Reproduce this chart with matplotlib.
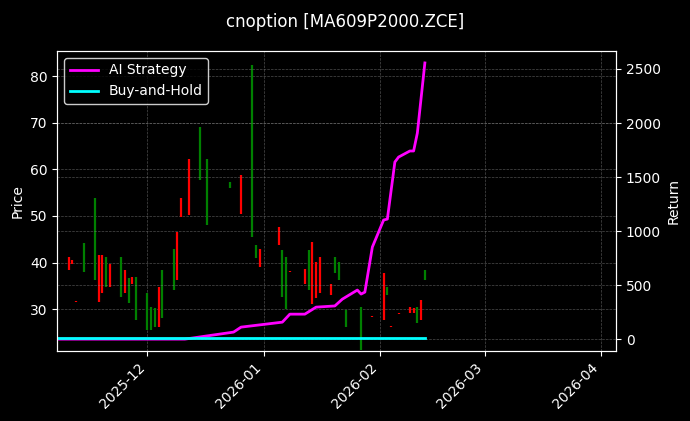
import matplotlib
matplotlib.use("Agg")
import matplotlib.pyplot as plt
import matplotlib.dates as mdates
import pandas as pd

# candle data (open, close); wicks equal the bodies
candle_dates = [
    "2025-11-10", "2025-11-11", "2025-11-12", "2025-11-14", "2025-11-17", "2025-11-18",
    "2025-11-19", "2025-11-20", "2025-11-21", "2025-11-24", "2025-11-25", "2025-11-26",
    "2025-11-27", "2025-11-28", "2025-12-01", "2025-12-02", "2025-12-03", "2025-12-04",
    "2025-12-05", "2025-12-08", "2025-12-09", "2025-12-10", "2025-12-12", "2025-12-15",
    "2025-12-17", "2025-12-23", "2025-12-26", "2025-12-29", "2025-12-30", "2025-12-31",
    "2026-01-05", "2026-01-06", "2026-01-07", "2026-01-08", "2026-01-12", "2026-01-13",
    "2026-01-14", "2026-01-15", "2026-01-16", "2026-01-19", "2026-01-20", "2026-01-21",
    "2026-01-23", "2026-01-27", "2026-01-30", "2026-02-02", "2026-02-03", "2026-02-04",
    "2026-02-06", "2026-02-09", "2026-02-10", "2026-02-11", "2026-02-12", "2026-02-13",
]
opens = [
    41.2, 40.5, 31.7, 38.0, 36.2, 41.6, 41.6, 34.8, 39.7, 32.7, 38.4, 31.3,
    36.9, 27.6, 25.5, 25.5, 26.2, 34.8, 28.0, 34.1, 46.6, 53.8, 62.3, 57.7,
    48.0, 55.9, 58.8, 45.5, 40.9, 43.0, 47.7, 32.6, 30.1, 38.2, 38.7, 34.1,
    44.5, 40.2, 41.2, 35.5, 37.7, 36.2, 26.2, 21.2, 28.6, 37.7, 33.0, 26.4,
    29.2, 30.5, 30.2, 27.0, 31.9, 36.2,
]
closes = [
    38.4, 39.7, 31.5, 44.2, 53.8, 31.6, 33.4, 41.2, 34.8, 41.2, 33.4, 36.6,
    35.5, 36.9, 33.4, 30.5, 30.2, 26.2, 38.4, 43.0, 36.2, 49.8, 50.2, 69.1,
    62.3, 57.3, 50.5, 82.4, 43.7, 39.1, 43.7, 42.7, 41.2, 38.0, 35.5, 42.7,
    31.2, 32.3, 33.4, 33.0, 41.2, 40.2, 29.8, 30.5, 28.4, 27.6, 34.8, 26.2,
    29.0, 29.1, 29.1, 30.5, 27.6, 38.4,
]

# strategy equity curve (return)
strategy_dates = [
    "2025-11-07", "2025-12-11", "2025-12-24", "2025-12-26", "2026-01-06", "2026-01-08",
    "2026-01-12", "2026-01-15", "2026-01-20", "2026-01-22", "2026-01-26", "2026-01-27",
    "2026-01-28", "2026-01-30", "2026-02-02", "2026-02-03", "2026-02-05", "2026-02-06",
    "2026-02-09", "2026-02-10", "2026-02-11", "2026-02-13",
]
strategy_returns = [
    0, 0, 65, 111, 157, 231, 231, 296, 307, 370, 454, 417,
    435, 852, 1102, 1111, 1639, 1685, 1741, 1741, 1908, 2556,
]
hold_dates = ["2025-11-07", "2026-02-13"]
hold_returns = [10, 10]

df = pd.DataFrame({"date": pd.to_datetime(candle_dates), "open": opens, "close": closes})
up = df["close"] >= df["open"]

plt.style.use("dark_background")
fig = plt.figure(figsize=(6.9, 4.21), dpi=100, facecolor="black")
ax = fig.add_axes([0.083, 0.166, 0.81, 0.713])
ax.set_facecolor("black")

ax.vlines(df.loc[up, "date"], df.loc[up, "open"], df.loc[up, "close"], colors="green", lw=1.6)
ax.vlines(df.loc[~up, "date"], df.loc[~up, "open"], df.loc[~up, "close"], colors="red", lw=1.6)
ax.set_ylabel("Price")
ax.set_ylim(21, 85.4)
ax.grid(True, color="gray", linestyle="--", linewidth=0.5, alpha=0.6)

ax2 = ax.twinx()
ax2.plot(pd.to_datetime(strategy_dates), strategy_returns, color="magenta", lw=2, label="AI Strategy")
ax2.plot(pd.to_datetime(hold_dates), hold_returns, color="cyan", lw=2, label="Buy-and-Hold")
ax2.set_ylim(-111, 2667)
ax2.set_ylabel("Return")
ax2.grid(True, color="gray", linestyle="--", linewidth=0.5, alpha=0.6)
ax2.legend(loc="upper left", facecolor="black", edgecolor="white", framealpha=0.8)

ax.set_xlim(pd.Timestamp("2025-11-07"), pd.Timestamp("2026-04-05"))
ax.xaxis.set_major_locator(mdates.MonthLocator())
ax.xaxis.set_major_formatter(mdates.DateFormatter("%Y-%m"))
plt.setp(ax.get_xticklabels(), rotation=45, ha="right")

fig.suptitle("cnoption [MA609P2000.ZCE]", y=0.97)
fig.savefig("out.png", facecolor="black")
